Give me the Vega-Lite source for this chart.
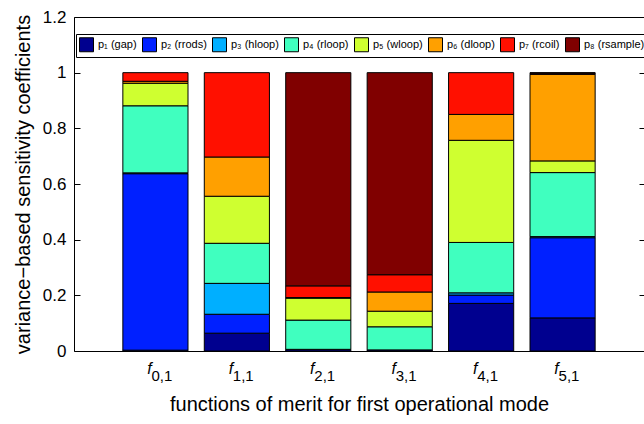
{
  "$schema": "https://vega.github.io/schema/vega-lite/v6.json",
  "width": 570,
  "height": 334,
  "autosize": {"type": "none"},
  "padding": {"left": 74, "top": 17, "right": 0, "bottom": 73},
  "background": "white",
  "config": {
    "font": "Liberation Sans",
    "view": {"stroke": "black", "strokeWidth": 1},
    "axis": {"grid": false, "labelColor": "black", "titleColor": "black", "tickColor": "black", "domainColor": "black"}
  },
  "datasets": {
    "bars": [
      {"fm": "f0,1", "param": "p₁ (gap)", "value": 0.003},
      {"fm": "f0,1", "param": "p₂ (rrods)", "value": 0.634},
      {"fm": "f0,1", "param": "p₃ (hloop)", "value": 0.003},
      {"fm": "f0,1", "param": "p₄ (rloop)", "value": 0.241},
      {"fm": "f0,1", "param": "p₅ (wloop)", "value": 0.081},
      {"fm": "f0,1", "param": "p₆ (dloop)", "value": 0.007},
      {"fm": "f0,1", "param": "p₇ (rcoil)", "value": 0.031},
      {"fm": "f1,1", "param": "p₁ (gap)", "value": 0.064},
      {"fm": "f1,1", "param": "p₂ (rrods)", "value": 0.068},
      {"fm": "f1,1", "param": "p₃ (hloop)", "value": 0.111},
      {"fm": "f1,1", "param": "p₄ (rloop)", "value": 0.144},
      {"fm": "f1,1", "param": "p₅ (wloop)", "value": 0.169},
      {"fm": "f1,1", "param": "p₆ (dloop)", "value": 0.141},
      {"fm": "f1,1", "param": "p₇ (rcoil)", "value": 0.303},
      {"fm": "f2,1", "param": "p₁ (gap)", "value": 0.006},
      {"fm": "f2,1", "param": "p₄ (rloop)", "value": 0.105},
      {"fm": "f2,1", "param": "p₅ (wloop)", "value": 0.079},
      {"fm": "f2,1", "param": "p₆ (dloop)", "value": 0.002},
      {"fm": "f2,1", "param": "p₇ (rcoil)", "value": 0.042},
      {"fm": "f2,1", "param": "p₈ (rsample)", "value": 0.766},
      {"fm": "f3,1", "param": "p₁ (gap)", "value": 0.004},
      {"fm": "f3,1", "param": "p₄ (rloop)", "value": 0.083},
      {"fm": "f3,1", "param": "p₅ (wloop)", "value": 0.056},
      {"fm": "f3,1", "param": "p₆ (dloop)", "value": 0.069},
      {"fm": "f3,1", "param": "p₇ (rcoil)", "value": 0.062},
      {"fm": "f3,1", "param": "p₈ (rsample)", "value": 0.726},
      {"fm": "f4,1", "param": "p₁ (gap)", "value": 0.171},
      {"fm": "f4,1", "param": "p₂ (rrods)", "value": 0.030},
      {"fm": "f4,1", "param": "p₃ (hloop)", "value": 0.008},
      {"fm": "f4,1", "param": "p₄ (rloop)", "value": 0.181},
      {"fm": "f4,1", "param": "p₅ (wloop)", "value": 0.367},
      {"fm": "f4,1", "param": "p₆ (dloop)", "value": 0.093},
      {"fm": "f4,1", "param": "p₇ (rcoil)", "value": 0.150},
      {"fm": "f5,1", "param": "p₁ (gap)", "value": 0.119},
      {"fm": "f5,1", "param": "p₂ (rrods)", "value": 0.288},
      {"fm": "f5,1", "param": "p₃ (hloop)", "value": 0.004},
      {"fm": "f5,1", "param": "p₄ (rloop)", "value": 0.230},
      {"fm": "f5,1", "param": "p₅ (wloop)", "value": 0.042},
      {"fm": "f5,1", "param": "p₆ (dloop)", "value": 0.311},
      {"fm": "f5,1", "param": "p₇ (rcoil)", "value": 0.004},
      {"fm": "f5,1", "param": "p₈ (rsample)", "value": 0.002}
    ],
    "labels": [
      {"fm": "f0,1", "sub": "0,1"},
      {"fm": "f1,1", "sub": "1,1"},
      {"fm": "f2,1", "sub": "2,1"},
      {"fm": "f3,1", "sub": "3,1"},
      {"fm": "f4,1", "sub": "4,1"},
      {"fm": "f5,1", "sub": "5,1"}
    ]
  },
  "layer": [
    {
      "data": {"name": "bars"},
      "mark": {"type": "bar", "stroke": "black", "strokeWidth": 1},
      "encoding": {
        "x": {
          "field": "fm", "type": "nominal",
          "sort": ["f0,1", "f1,1", "f2,1", "f3,1", "f4,1", "f5,1"],
          "scale": {"paddingInner": 0.2, "paddingOuter": 0.6},
          "axis": {"labels": false, "ticks": false, "domain": false, "title": "functions of merit for first operational mode", "titleFontSize": 20, "titleFontWeight": "normal", "titlePadding": 43}
        },
        "y": {
          "field": "value", "type": "quantitative", "stack": "zero",
          "scale": {"domain": [0, 1.2], "nice": false},
          "axis": {"values": [0, 0.2, 0.4, 0.6, 0.8, 1, 1.2], "format": "~g", "tickSize": -6, "labelPadding": 14, "labelFontSize": 17, "domain": false, "title": "variance−based sensitivity coefficients", "titleFontSize": 20, "titleFontWeight": "normal", "titlePadding": 9}
        },
        "color": {
          "field": "param", "type": "nominal",
          "scale": {
            "domain": ["p₁ (gap)", "p₂ (rrods)", "p₃ (hloop)", "p₄ (rloop)", "p₅ (wloop)", "p₆ (dloop)", "p₇ (rcoil)", "p₈ (rsample)"],
            "range": ["#00008F", "#0020FF", "#00AFFF", "#40FFBF", "#CFFF30", "#FFA000", "#FF1000", "#800000"]
          },
          "legend": {
            "orient": "none", "legendX": 2, "legendY": 17, "direction": "horizontal", "columns": 8,
            "title": null, "symbolType": "square", "symbolSize": 196, "symbolStrokeColor": "black", "symbolStrokeWidth": 1, "symbolOpacity": 1,
            "labelFontSize": 11, "labelColor": "black", "labelOffset": 4, "columnPadding": 3, "padding": 3,
            "strokeColor": "black", "fillColor": "white"
          }
        },
        "order": {"field": "param", "sort": "ascending"}
      }
    },
    {
      "data": {"name": "labels"},
      "mark": {"type": "text", "text": "f", "fontStyle": "italic", "fontSize": 16, "dx": -6, "baseline": "alphabetic", "color": "black"},
      "encoding": {
        "x": {"field": "fm", "type": "nominal", "sort": ["f0,1", "f1,1", "f2,1", "f3,1", "f4,1", "f5,1"]},
        "y": {"datum": -0.083, "type": "quantitative", "scale": {"domain": [0, 1.2], "nice": false},
          "axis": {"orient": "right", "labels": false, "values": [0.2, 0.4, 0.6, 0.8, 1, 1.2], "tickSize": -5, "domain": false, "title": null}}
      }
    },
    {
      "data": {"name": "labels"},
      "mark": {"type": "text", "fontSize": 15, "dx": -4, "dy": 7, "align": "left", "baseline": "alphabetic", "color": "black"},
      "encoding": {
        "x": {"field": "fm", "type": "nominal", "sort": ["f0,1", "f1,1", "f2,1", "f3,1", "f4,1", "f5,1"]},
        "y": {"datum": -0.083, "type": "quantitative", "scale": {"domain": [0, 1.2], "nice": false}, "axis": null},
        "text": {"field": "sub"}
      }
    }
  ],
  "resolve": {"scale": {"y": "independent"}, "axis": {"y": "independent"}}
}
